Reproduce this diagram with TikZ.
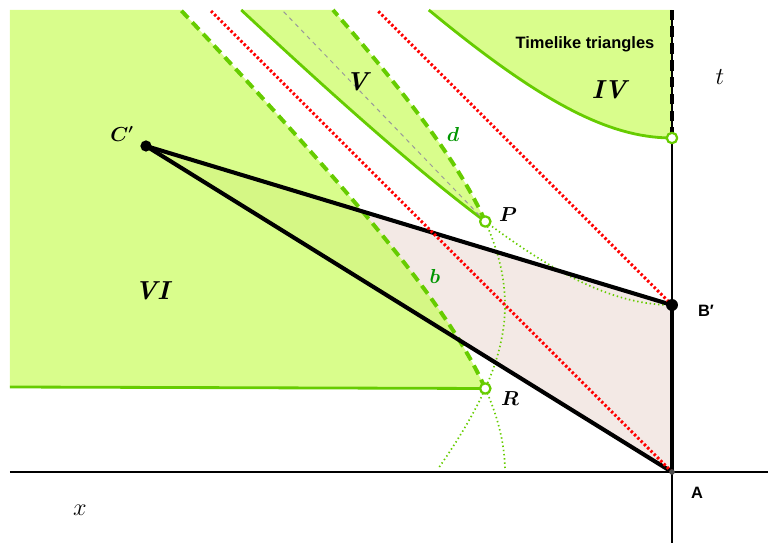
\documentclass[tikz,border=0pt]{standalone}
\usepackage{amsmath}
\usepackage{fontspec}
\newfontfamily\geofont{Liberation Sans}
\definecolor{regiongreen}{RGB}{204,252,102}
\definecolor{linegreen}{RGB}{102,204,0}
\definecolor{labelgreen}{RGB}{0,150,0}
\definecolor{wedgefill}{RGB}{243,233,229}
\tikzset{
    spacetime/.style      = {line cap=butt, line join=round},
    region/.style         = {fill=regiongreen, fill opacity=0.75},
    boundary/.style       = {draw=linegreen, line width=2pt},
    dashed boundary/.style= {boundary, line width=2.8pt,
                             dash pattern=on 7pt off 4.3pt},
    guide/.style          = {draw=linegreen, line width=1.2pt,
                             dash pattern=on 1pt off 2pt},
    mid line/.style       = {draw=gray!80, line width=0.7pt,
                             dash pattern=on 3pt off 3pt},
    light ray/.style      = {draw=red, line width=2.1pt,
                             dash pattern=on 1.7pt off 1.6pt},
    worldline/.style      = {line width=2.9pt},
    axisline/.style       = {line width=0.9pt},
    open point/.style     = {circle, draw=linegreen, fill=white,
                             line width=1.6pt, inner sep=0pt,
                             minimum size=7.4pt},
    event/.style          = {circle, fill=black, inner sep=0pt,
                             minimum size=8pt},
    region label/.style   = {font=\fontsize{18.5}{20}\selectfont\bfseries\itshape},
    point label/.style    = {font=\fontsize{13.5}{15}\selectfont},
    curve label/.style    = {text=labelgreen,
                             font=\fontsize{14}{16}\selectfont},
    axis label/.style     = {font=\fontsize{16.5}{18}\selectfont},
    sans label/.style     = {font=\geofont\bfseries\fontsize{11.7}{13}\selectfont}
}
\def\tauB{4.175}
\def\ksq{17.4306}
\def\ytop{11.55}
\def\xleft{-16.55}

\begin{document}
\begin{tikzpicture}[spacetime]
\useasboundingbox (-16.8,-1.775) rectangle (2.4,11.8);

% Events of the triangle and the hyperbola crossings.
\coordinate (A) at (0,0);
\coordinate (Bp) at (0,\tauB);
\coordinate (Cp) at (-13.15,8.15);
\coordinate (P) at (-4.6678,6.2625);
\coordinate (R) at (-4.6678,2.0875);
\coordinate (Q) at (0,8.35);

% Triangle C'B'A, shaded.
\fill[wedgefill] (Cp) -- (Bp) -- (A) -- cycle;

% Green regions VI, V and IV.
\fill[region] (\xleft,\ytop) -- (-12.2814,\ytop)
    -- plot[domain=\ytop:2.0875, samples=40] ({-sqrt(\ksq+\x*\x)},\x)
    -- (\xleft,2.125) -- cycle;
\fill[region] plot[domain=-10.769:-4.6678, samples=40] (\x,{sqrt(\ksq+\x*\x)})
    -- plot[domain=6.2625:\ytop, samples=40] ({-sqrt(\ksq+(\x-\tauB)^2)},\x)
    -- cycle;
\fill[region] (0,\ytop) -- (-6.0795,\ytop)
    -- plot[domain=-6.0795:0, samples=40] (\x,{\tauB+sqrt(\ksq+\x*\x)})
    -- cycle;

% Region boundaries.
\draw[boundary] (R) -- (\xleft,2.125);
\draw[dashed boundary] plot[domain=2.0875:\ytop, samples=40] ({-sqrt(\ksq+\x*\x)},\x);
\draw[boundary] plot[domain=-10.769:-4.6678, samples=40] (\x,{sqrt(\ksq+\x*\x)});
\draw[dashed boundary] plot[domain=6.2625:\ytop, samples=40] ({-sqrt(\ksq+(\x-\tauB)^2)},\x);
\draw[mid line] (P) -- (-9.75,\ytop);
\draw[boundary] plot[domain=-6.0795:0, samples=40] (\x,{\tauB+sqrt(\ksq+\x*\x)});

% Hyperbolas through P and R.
\draw[guide] plot[domain=-4.6678:0, samples=30] (\x,{sqrt(\ksq+\x*\x)});
\draw[guide] plot[domain=0.125:6.2625, samples=40] ({-sqrt(\ksq+(\x-\tauB)^2)},\x);
\draw[guide] plot[domain=0.1:2.0875, samples=20] ({-sqrt(\ksq+\x*\x)},\x);

% Axes.
\draw[axisline] (\xleft,0) -- (2.4,0);
\draw[axisline] (0,-1.775) -- (0,\ytop);
\draw[line width=2.8pt, dash pattern=on 7.5pt off 4.5pt] (Q) -- (0,\ytop);

% Triangle sides.
\draw[worldline] (Cp) -- (Bp);
\draw[worldline] (Cp) -- (A);
\draw[worldline, line width=3.3pt] (Bp) -- (A);

% Light rays through A and B'.
\draw[light ray] (A) -- (-\ytop,\ytop);
\draw[light ray] (Bp) -- (-7.375,\ytop);

% Points.
\node[event] (Cpdot) at (Cp) {};
\node[event, minimum size=8.5pt] (Bpdot) at (Bp) {};
\node[circle, fill=black!70, inner sep=0pt, minimum size=4pt] (Adot) at (A) {};
\node[open point] (Pdot) at (P) {};
\node[open point] (Rdot) at (R) {};
\node[open point] (Qdot) at (Q) {};

% Labels.
\node[axis label] (tlabel) at (1.2,9.875) {$t$};
\node[axis label] (xlabel) at (-14.8,-0.95) {$x$};
\node[sans label] (Alabel) at (0.625,-0.525) {A};
\node[sans label] (Bplabel) at (0.85,4.025) {B′};
\node[point label] (Cplabel) at (-13.75,8.45) {$\boldsymbol{C'}$};
\node[point label] (Plabel) at (-4.1,6.425) {$\boldsymbol{P}$};
\node[point label] (Rlabel) at (-4.05,1.825) {$\boldsymbol{R}$};
\node[region label] (VIlabel) at (-13,4.525) {VI};
\node[region label] (Vlabel) at (-7.875,9.75) {V};
\node[region label] (IVlabel) at (-1.575,9.55) {IV};
\node[curve label] (dlabel) at (-5.475,8.45) {$\boldsymbol{d}$};
\node[curve label] (blabel) at (-5.925,4.9) {$\boldsymbol{b}$};
\node[sans label] (title) at (-2.175,10.7) {Timelike triangles};

\end{tikzpicture}
\end{document}
